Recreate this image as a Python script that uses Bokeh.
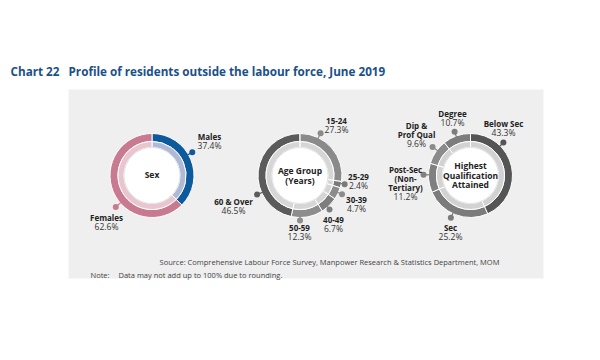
import math
from bokeh.plotting import figure
from bokeh.models import Range1d
from bokeh.core.properties import value
from bokeh.embed import file_html
from bokeh.resources import INLINE

# ---------------- data ----------------
sex_cats = ["Males", "Females"]
sex_vals = [37.4, 62.6]

age_cats = ["15-24", "25-29", "30-39", "40-49", "50-59", "60 & Over"]
age_vals = [27.3, 2.4, 4.7, 6.7, 12.3, 46.5]

qual_cats = ["Below Sec", "Sec", "Post-Sec (Non-Tertiary)", "Dip & Prof Qual", "Degree"]
qual_vals = [43.3, 25.2, 11.2, 9.6, 10.7]

# ---------------- style / layout ----------------
sex_dark = ["#0d5b9c", "#c77a90"]
sex_pale = ["#aebad8", "#e8c5cf"]
age_dark = ["#8a8a8a", "#7a7a7a", "#8c8c8c", "#7e7e7e", "#8d8d8d", "#5b5b5b"]
age_pale = ["#d6d6d6"] * 6
qual_dark = ["#555555", "#7b7b7b", "#808080", "#8b8b8b", "#7d7d7d"]
qual_pale = ["#d2d2d2"] * 5

FONT = "Open Sans"
W, H = 584, 344
OX, OY = 0, 0  # page offset of the figure


def Y(yimg):
    return 360 - yimg


p = figure(width=W, height=H, output_backend="svg", toolbar_location=None,
           x_range=Range1d(OX, OX + W), y_range=Range1d(Y(OY + H), Y(OY)),
           min_border=0, outline_line_color=None)
p.axis.visible = False
p.grid.visible = False
p.background_fill_color = "white"
p.border_fill_color = "white"

# panel
p.quad(left=[68], right=[543], top=[Y(89)], bottom=[Y(278)],
       fill_color="#efefef", line_color=None)


def donut(cx, cy, vals, dark, pale, dot_angles, dot_r):
    total = 100.0
    starts, ends = [], []
    cum = 0.0
    for v in vals:
        starts.append(math.pi / 2 - cum / total * 2 * math.pi)
        cum += v
        ends.append(math.pi / 2 - cum / total * 2 * math.pi)
    n = len(vals)
    p.annular_wedge(x=[cx] * n, y=[Y(cy)] * n, inner_radius=34, outer_radius=42,
                    start_angle=starts, end_angle=ends, direction="clock",
                    fill_color=dark, line_color="white", line_width=1)
    p.annular_wedge(x=[cx] * n, y=[Y(cy)] * n, inner_radius=28, outer_radius=34,
                    start_angle=starts, end_angle=ends, direction="clock",
                    fill_color=pale, line_color="white", line_width=1)
    p.circle(x=[cx], y=[Y(cy)], radius=28, fill_color="white",
             line_color="#e4e4e4", line_width=1)
    # leader dots
    xs0, ys0, xs1, ys1 = [], [], [], []
    for a, r in zip(dot_angles, dot_r):
        t = math.radians(a)
        xs0.append(cx + 41 * math.sin(t)); ys0.append(Y(cy) + 41 * math.cos(t))
        xs1.append(cx + r * math.sin(t)); ys1.append(Y(cy) + r * math.cos(t))
    p.segment(x0=xs0, y0=ys0, x1=xs1, y1=ys1, line_color=dark, line_width=1.2)
    p.scatter(x=xs1, y=ys1, size=6, fill_color=dark, line_color=None)


donut(151.5, 175, sex_vals, sex_dark, sex_pale, [60, 229], [46.5, 48])
donut(299.5, 175, age_vals, age_dark, age_pale,
      [26, 101, 114, 139, 180, 246], [47, 45.5, 46, 45, 45, 47])
donut(470, 175, qual_vals, qual_dark, qual_pale,
      [45, 205, 271, 307, 340], [46.5, 46.5, 47, 47.5, 46.5])


def txt(x, y, s, size="8px", bold=False, color="#222222", align="center"):
    p.text(x=[x], y=[Y(y)], text=[s], text_font=value(FONT),
           text_font_size=size, text_font_style="bold" if bold else "normal",
           text_color=color, text_align=align, text_baseline="middle")


def label(x, y, lines, pct, step=9):
    for i, ln in enumerate(lines):
        txt(x, y + i * step, ln, bold=True)
    txt(x, y + len(lines) * step, pct, size="8.5px", color="#333333")


# title
TITLE_C = "#1a5089"
txt(10, 70, "Chart 22", size="11.7px", bold=True, color=TITLE_C, align="left")
txt(68, 70, "Profile of residents outside the labour force, June 2019",
    size="11.7px", bold=True, color=TITLE_C, align="left")

# centre labels
txt(151.5, 174, "Sex", size="8.5px", bold=True)
txt(299.5, 170, "Age Group", size="8.5px", bold=True)
txt(299.5, 179.5, "(Years)", size="8.5px", bold=True)
txt(470, 165, "Highest", size="8.5px", bold=True)
txt(470, 174.5, "Qualification", size="8.5px", bold=True)
txt(470, 184, "Attained", size="8.5px", bold=True)

# sex labels
label(209, 136, [sex_cats[0]], f"{sex_vals[0]}%")
label(106, 217, [sex_cats[1]], f"{sex_vals[1]}%")

# age labels
age_pos = [(336, 120), (358, 176), (356, 199), (333, 219), (299, 227), (233, 201)]
for (x, y), c, v in zip(age_pos, age_cats, age_vals):
    label(x, y, [c], f"{v}%")

# qualification labels
label(503, 123, ["Below Sec"], f"{qual_vals[0]}%")
label(450, 227, ["Sec"], f"{qual_vals[1]}%")
label(405, 169, ["Post-Sec", "(Non-", "Tertiary)"], f"{qual_vals[2]}%")
label(416, 125, ["Dip &", "Prof Qual"], f"{qual_vals[3]}%")
label(452, 113, ["Degree"], f"{qual_vals[4]}%")

# source and note
txt(329, 261, "Source: Comprehensive Labour Force Survey, Manpower Research & Statistics Department, MOM",
    size="7.5px", color="#444444")
txt(90, 274, "Note:", size="7.5px", color="#444444", align="left")
txt(118, 274, "Data may not add up to 100% due to rounding.", size="7.5px",
    color="#444444", align="left")

open("out.html", "w").write(file_html(p, INLINE))
